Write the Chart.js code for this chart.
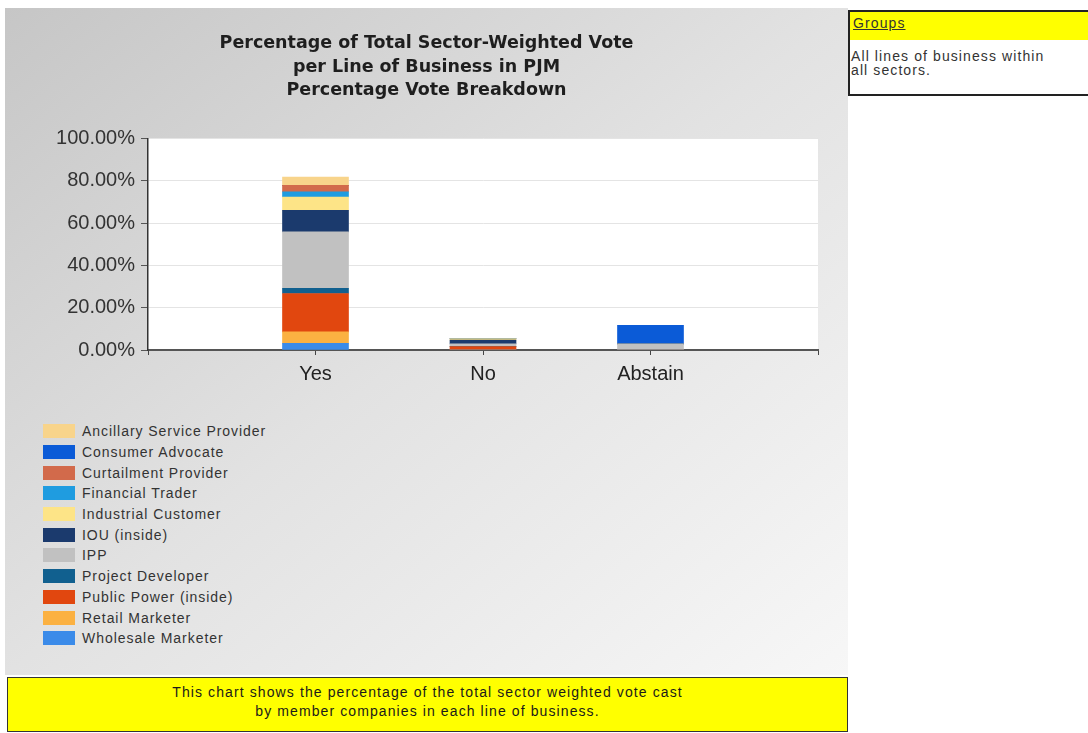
<!DOCTYPE html>
<html>
<head>
<meta charset="utf-8">
<script src="https://cdn.jsdelivr.net/npm/chart.js@4.4.1/dist/chart.umd.min.js"></script>
<style>
  body { margin: 0; background: #fff; font-family: Arial, "Liberation Sans", sans-serif; }
  #panel {
    position: absolute; left: 5px; top: 8px; width: 843px; height: 667px;
    background: linear-gradient(to bottom right, #c6c6c6 0%, #e2e2e2 50%, #f7f7f7 100%);
  }
  #myChart { position: absolute; left: 0; top: 0; }
  #legend { position: absolute; left: 38px; top: 413px; }
  .legend-item { height: 20.7px; display: flex; align-items: center; font-size: 14px; letter-spacing: 0.95px; color: #333; white-space: nowrap; }
  .legend-box { width: 32px; height: 14px; margin-right: 7px; }
  #note {
    position: absolute; left: 7px; top: 677px; width: 841px; height: 55px;
    background: #ffff00; border: 1.5px solid #333; text-align: center;
    font-size: 14px; letter-spacing: 1.1px; line-height: 19px; color: #1a1a1a; padding-top: 5px; box-sizing: border-box;
  }
  #groups {
    position: absolute; left: 848px; top: 10px; width: 250px; height: 86px;
    border: 2px solid #222; background: #fff; box-sizing: border-box;
  }
  #groups .head { background: #ffff00; height: 28px; font-size: 14px; letter-spacing: 1.1px; padding: 3px 0 0 3px; box-sizing: border-box; }
  #groups .head span { text-decoration: underline; color: #333; }
  #groups .body { font-size: 14px; letter-spacing: 1.1px; line-height: 14px; padding: 9px 0 0 1px; color: #333; }
</style>
</head>
<body>
<div id="panel">
  <canvas id="myChart" width="843" height="400"></canvas>
  <div id="legend"></div>
</div>
<div id="note">This chart shows the percentage of the total sector weighted vote cast<br>by member companies in each line of business.</div>
<div id="groups">
  <div class="head"><span>Groups</span></div>
  <div class="body">All lines of business within<br>all sectors.</div>
</div>

<script>
// categories (blank slots at both ends keep the bars where the original had them)
let categories = ["", "Yes", "No", "Abstain", ""];
let yTicks = [0, 20, 40, 60, 80, 100];

// values per line of business: [Yes, No, Abstain], stacked bottom to top
let wholesaleMarketer = [3.1, 0, 0];
let retailMarketer = [5.5, 0, 0];
let publicPower = [18.1, 1.6, 0];
let projectDeveloper = [2.4, 0, 0];
let ipp = [26.7, 1.3, 2.8];
let iou = [10.2, 1.8, 0];
let industrialCustomer = [6.3, 0.6, 0];
let financialTrader = [2.4, 0, 0];
let curtailmentProvider = [3.1, 0, 0];
let consumerAdvocate = [0, 0, 8.9];
let ancillaryService = [3.9, 0, 0];

function pad(arr) {
  return [null].concat(arr).concat([null]);
}

let series = [
  { label: "Wholesale Marketer", data: wholesaleMarketer, color: "#3b8be9" },
  { label: "Retail Marketer", data: retailMarketer, color: "#fbb142" },
  { label: "Public Power (inside)", data: publicPower, color: "#e1470f" },
  { label: "Project Developer", data: projectDeveloper, color: "#11608f" },
  { label: "IPP", data: ipp, color: "#c1c1c1" },
  { label: "IOU (inside)", data: iou, color: "#1b3a6d" },
  { label: "Industrial Customer", data: industrialCustomer, color: "#fde487" },
  { label: "Financial Trader", data: financialTrader, color: "#1f9ce0" },
  { label: "Curtailment Provider", data: curtailmentProvider, color: "#d26a4b" },
  { label: "Consumer Advocate", data: consumerAdvocate, color: "#0b5bd7" },
  { label: "Ancillary Service Provider", data: ancillaryService, color: "#f8d48b" },
];

// white background only inside the plot area
const plotBg = {
  id: "plotBg",
  beforeDraw(chart) {
    let a = chart.chartArea;
    chart.ctx.save();
    chart.ctx.fillStyle = "#ffffff";
    chart.ctx.fillRect(a.left, a.top, a.right - a.left, a.bottom - a.top);
    chart.ctx.restore();
  },
};

const ctx = document.getElementById("myChart");

let chart = new Chart(ctx, {
  type: "bar",
  data: {
    labels: categories,
    datasets: series.map((s) => ({
      label: s.label,
      data: pad(s.data),
      backgroundColor: s.color,
      borderWidth: 0,
      barThickness: 66,
    })),
  },
  options: {
    responsive: false,
    animation: false,
    layout: { padding: { left: 30, right: 30, top: 0, bottom: 0 } },
    plugins: {
      legend: { display: false },
      tooltip: { enabled: false },
      title: {
        display: true,
        text: ["Percentage of Total Sector-Weighted Vote", "per Line of Business in PJM", "Percentage Vote Breakdown"],
        color: "#1e1e1e",
        font: { family: "DejaVu Sans", size: 17.5, weight: "bold", lineHeight: 1.34 },
        padding: { top: 24, bottom: 36 },
      },
    },
    scales: {
      x: {
        stacked: true,
        offset: false,
        grid: { drawOnChartArea: false, offset: false, tickLength: 5, color: "#444" },
        border: { color: "#555", width: 2 },
        ticks: { color: "#222", font: { family: "Arial", size: 20 }, padding: 7, autoSkip: false, maxRotation: 0 },
        afterFit: (scale) => { scale.height = 58; },
      },
      y: {
        stacked: true,
        min: 0,
        max: 100,
        afterBuildTicks: (scale) => { scale.ticks = yTicks.map((v) => ({ value: v })); },
        grid: { color: "#e4e4e4", tickColor: "#555", tickLength: 7 },
        border: { color: "#333", width: 1.5 },
        ticks: {
          color: "#333",
          font: { family: "Arial", size: 20 },
          padding: 6,
          callback: (v) => v.toFixed(2) + "%",
        },
        afterFit: (scale) => { scale.width = 113; },
      },
    },
  },
  plugins: [plotBg],
});

// legend in one column, same order as the original (top of the stack first)
let legend = document.getElementById("legend");
chart.data.datasets.slice().reverse().forEach((ds) => {
  let item = document.createElement("div");
  item.className = "legend-item";
  item.innerHTML = '<div class="legend-box" style="background:' + ds.backgroundColor + '"></div>' + ds.label;
  legend.appendChild(item);
});
</script>
</body>
</html>
